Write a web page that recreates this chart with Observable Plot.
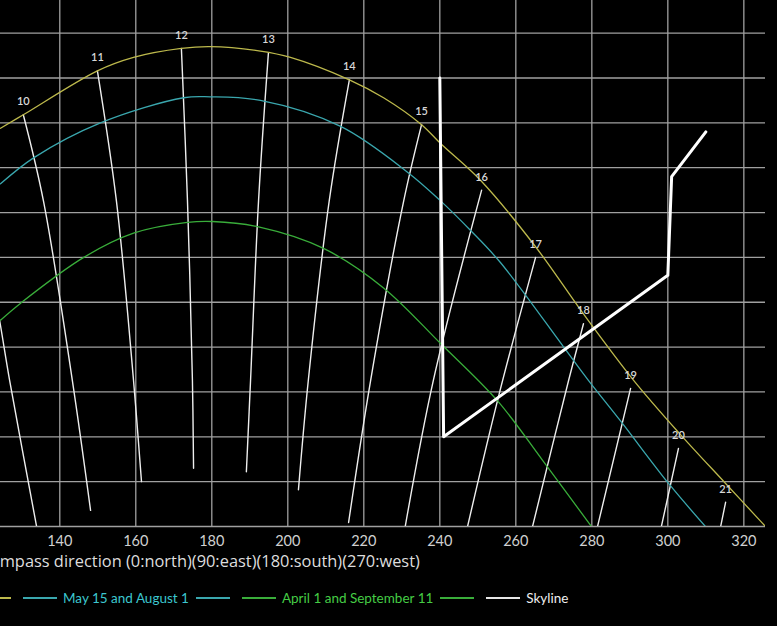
<!DOCTYPE html>
<html>
<head>
<meta charset="utf-8">
<script src="https://cdn.jsdelivr.net/npm/d3@7"></script>
<script src="https://cdn.jsdelivr.net/npm/@observablehq/plot@0.6"></script>
<style>
  html, body { margin: 0; padding: 0; background: #000; width: 777px; height: 626px; overflow: hidden; position: relative; }
  #chart svg { display: block; }
  #legend { position: absolute; top: 589px; left: 0; height: 18px; display: flex; align-items: center; font-family: Lato, "Noto Sans", sans-serif; font-size: 13.5px; white-space: nowrap; }
  #legend .sw { display: inline-block; width: 34px; height: 0; border-top: 2px solid; }
  #legend .first { width: 11px; display: flex; justify-content: flex-end; align-items: center; overflow: visible; }
  #legend .item { display: flex; align-items: center; }
</style>
</head>
<body>
<div id="chart"></div>
<div id="legend"></div>
<script>
// ---- data (azimuth in degrees, altitude in degrees) ----
const xTicks = [140, 160, 180, 200, 220, 240, 260, 280, 300, 320];
const yTicks = [0, 5, 10, 15, 20, 25, 30, 35, 40, 45, 50, 55];

const junAz  = [124.4, 130.4, 149.9, 159.4, 172.0, 179.6, 192.8, 200.7, 216.2, 225.2, 235.2, 240.2, 250.7, 265.0, 277.8, 291.0, 302.8, 315.2, 325.7];
const junAlt = [44.4, 45.9, 50.8, 52.3, 53.3, 53.5, 53.0, 52.3, 49.8, 47.8, 44.8, 42.7, 38.6, 31.3, 23.7, 16.3, 10.5, 4.8, 0];

const mayAz  = [124.4, 133.1, 150.7, 172.6, 179.6, 192.8, 213.9, 231.5, 240.2, 248.1, 256.0, 272.6, 279.1, 287.5, 300.2, 309.9];
const mayAlt = [38.2, 41.1, 45.0, 47.8, 47.9, 47.5, 44.6, 39.5, 36.3, 33.0, 29.4, 20.0, 16.3, 11.8, 4.8, 0];

const aprAz  = [124.4, 129.7, 146.3, 159.4, 173.6, 180.2, 192.3, 209.4, 225.2, 240.2, 255.2, 267.0, 279.9];
const aprAlt = [23.0, 24.9, 30.0, 32.7, 33.9, 34.0, 33.4, 31.0, 26.6, 20.4, 14.0, 7.4, 0];

const skyAz  = [240, 241, 300, 301, 310];
const skyAlt = [50, 10, 28, 39, 44];

const hours = [9, 10, 11, 12, 13, 14, 15, 16, 17, 18, 19, 20, 21];
const hourAz = [
  [121.2, 124.4, 126.8, 133.9],
  [130.4, 135.7, 143.3, 148.1],
  [149.9, 154.9, 159.4, 161.5],
  [172.0, 173.6, 174.9, 175.2],
  [194.9, 192.3, 190.2, 189.1],
  [216.2, 210.9, 205.4, 202.8],
  [235.2, 230.5, 221.8, 216.0],
  [251.0, 238.3, 230.9],
  [265.2, 255.4, 247.3],
  [277.8, 273.9, 264.4],
  [290.2, 281.5],
  [302.8, 298.3],
  [315.2, 313.9]
];
const hourAlt = [
  [30.2, 22.4, 16.3, 0],
  [45.9, 36.3, 16.3, 1.8],
  [50.8, 36.3, 16.3, 5.0],
  [53.3, 36.3, 16.3, 6.5],
  [52.8, 36.3, 16.3, 6.1],
  [49.8, 36.3, 16.3, 4.1],
  [44.8, 36.3, 16.3, 0.45],
  [37.5, 16.3, 0],
  [30.0, 14.4, 0],
  [22.6, 16.3, 0],
  [15.4, 0],
  [8.7, 0],
  [2.7, 0]
];

const seriesNames  = ["June 21", "May 15 and August 1", "April 1 and September 11", "Skyline"];
const seriesLine   = ["#bdb94c", "#3aa7ae", "#39ad3a", "#e6e6e6"];
const seriesText   = ["#d4d05a", "#3cc7cf", "#45cc45", "#eeeeee"];

// ---- tables ----
const toPts = (az, alt) => az.map((a, i) => ({az: a, alt: alt[i]}));
const jun = toPts(junAz, junAlt);
const may = toPts(mayAz, mayAlt);
const apr = toPts(aprAz, aprAlt);
const sky = toPts(skyAz, skyAlt);
const hourPts = hours.flatMap((h, k) => hourAz[k].map((a, i) => ({hour: h, az: a, alt: hourAlt[k][i]})));
const hourTops = hours.slice(1).map((h, k) => ({hour: h, az: hourAz[k + 1][0], alt: hourAlt[k + 1][0]}));

const chart = Plot.plot({
  width: 777,
  height: 580,
  marginLeft: 0,
  marginRight: 12,
  marginTop: 0,
  marginBottom: 54,
  x: {domain: [124.4, 325.7], axis: null},
  y: {domain: [0, 58.64], axis: null},
  style: {background: "#000", color: "#cfcfcf", fontFamily: "Lato, 'Noto Sans', sans-serif"},
  marks: [
    Plot.gridX(xTicks, {stroke: "#a0a0a0", strokeOpacity: 1, strokeWidth: 1.3}),
    Plot.gridY(yTicks, {stroke: "#a0a0a0", strokeOpacity: 1, strokeWidth: 1.3}),
    Plot.line(hourPts, {x: "az", y: "alt", z: "hour", stroke: "#eeeeee", strokeWidth: 1.4, curve: "catmull-rom", clip: true}),
    Plot.line(apr, {x: "az", y: "alt", stroke: seriesLine[2], strokeWidth: 1.3, curve: "catmull-rom", clip: true}),
    Plot.line(may, {x: "az", y: "alt", stroke: seriesLine[1], strokeWidth: 1.3, curve: "catmull-rom", clip: true}),
    Plot.line(jun, {x: "az", y: "alt", stroke: seriesLine[0], strokeWidth: 1.3, curve: "catmull-rom", clip: true}),
    Plot.line(sky, {x: "az", y: "alt", stroke: "#ffffff", strokeWidth: 3, clip: true}),
    Plot.text(hourTops, {x: "az", y: "alt", text: d => String(d.hour), dy: -13, fill: "#d8d8d8", fontSize: 11, fontWeight: 600}),
    Plot.axisX(xTicks, {tickSize: 0, tickPadding: 9, fontSize: 14.5, label: null, fill: "#d0d0d0"}),
    Plot.text(["Compass direction (0:north)(90:east)(180:south)(270:west)"], {frameAnchor: "bottom-left", lineAnchor: "middle", dx: -21, dy: 35, textAnchor: "start", fontSize: 16.4, fontFamily: "'Open Sans', Lato, sans-serif", fill: "#dddddd"})
  ]
});
document.getElementById("chart").appendChild(chart);

// ---- legend ----
const legend = document.getElementById("legend");
function entry(i, trailing) {
  const wrap = document.createElement("span");
  wrap.className = "item";
  const sw1 = document.createElement("span"); sw1.className = "sw"; sw1.style.borderColor = seriesLine[i];
  const t = document.createElement("span"); t.textContent = seriesNames[i]; t.style.color = seriesText[i];
  t.style.margin = "0 7px 0 6px";
  wrap.appendChild(sw1); wrap.appendChild(t);
  if (trailing) { const sw2 = document.createElement("span"); sw2.className = "sw"; sw2.style.borderColor = seriesLine[i]; wrap.appendChild(sw2); }
  return wrap;
}
const first = document.createElement("span");
first.className = "first";
first.appendChild(entry(0, true));
legend.appendChild(first);
for (let i = 1; i < 4; i++) {
  const e = entry(i, i < 3);
  e.style.marginLeft = "12px";
  legend.appendChild(e);
}
</script>
</body>
</html>
